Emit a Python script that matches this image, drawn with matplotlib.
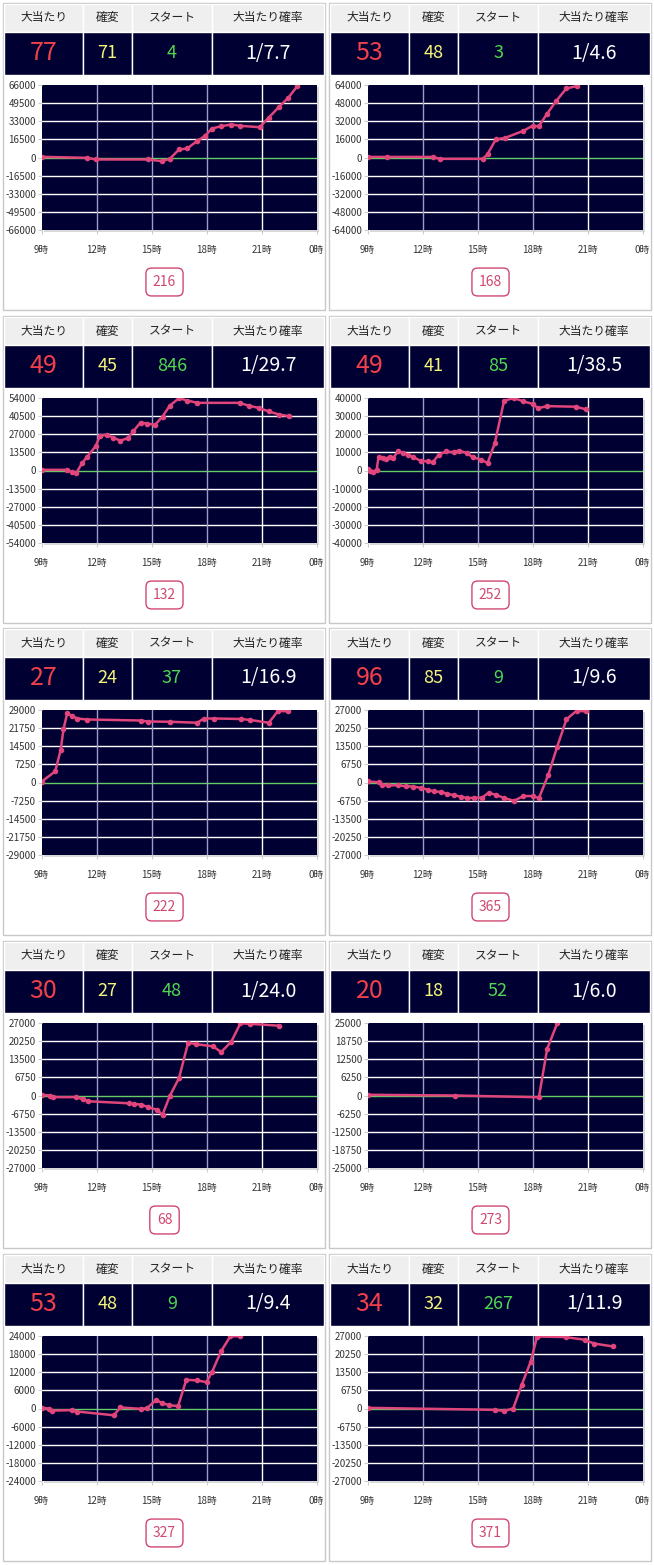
import matplotlib
matplotlib.use("Agg")
import matplotlib.pyplot as plt
from matplotlib.patches import Rectangle
import numpy as np

plt.rcParams['font.family'] = ['Noto Sans CJK JP', 'DejaVu Sans']

# summary numbers per machine
big_hits = [77, 53, 49, 49, 27, 96, 30, 20, 53, 34]
kakuhen = [71, 48, 45, 41, 24, 85, 27, 18, 48, 32]
starts = [4, 3, 846, 85, 37, 9, 48, 52, 9, 267]
probs = ["1/7.7", "1/4.6", "1/29.7", "1/38.5", "1/16.9", "1/9.6", "1/24.0", "1/6.0", "1/9.4", "1/11.9"]
totals = [216, 168, 132, 252, 222, 365, 68, 273, 327, 371]
y_max = [66000, 64000, 54000, 40000, 29000, 27000, 27000, 25000, 24000, 27000]

headers = ["大当たり", "確変", "スタート", "大当たり確率"]
hour_ticks = [9, 12, 15, 18, 21, 24]
hour_labels = ["9時", "12時", "15時", "18時", "21時", "0時"]

# time (hour) and balance series
t1 = [9.0, 11.5, 11.95, 14.8, 15.55, 16.0, 16.5, 16.95, 17.5, 17.9, 18.3, 18.8, 19.35, 19.85, 20.9, 21.4, 21.95, 22.45, 22.95]
v1 = [600, -300, -1800, -1800, -3300, -1200, 7300, 8200, 15200, 19400, 26400, 28500, 30000, 28800, 27600, 36400, 46000, 54200, 64800]
t2 = [9.0, 10.05, 12.55, 12.96, 15.3, 15.55, 16.0, 16.5, 17.5, 18.0, 18.35, 18.8, 19.3, 19.85, 20.4]
v2 = [500, 500, 500, -1200, -1200, 3000, 16000, 17300, 23500, 28000, 27600, 38800, 50000, 61000, 63000]
t3 = [9.0, 10.4, 10.67, 10.9, 11.2, 11.5, 11.95, 12.2, 12.55, 12.9, 13.3, 13.7, 14.0, 14.4, 14.75, 15.2, 15.6, 16.0, 16.5, 16.95, 17.5, 19.8, 20.3, 20.85, 21.4, 21.95, 22.5]
v3 = [500, 500, -1300, -1800, 5300, 10400, 18000, 26000, 26600, 24500, 22300, 24000, 29100, 35700, 34900, 34100, 40200, 48300, 53900, 52100, 50400, 50400, 48300, 46600, 44000, 41700, 40500]
t4 = [9.0, 9.15, 9.3, 9.5, 9.6, 9.85, 10.0, 10.2, 10.4, 10.65, 10.95, 11.2, 11.5, 11.9, 12.3, 12.55, 12.9, 13.3, 13.7, 14.0, 14.4, 14.75, 15.2, 15.55, 15.95, 16.45, 17.0, 17.5, 18.0, 18.3, 18.8, 20.35, 20.9]
v4 = [750, -200, -750, 400, 7300, 6700, 6400, 7700, 6700, 10500, 9700, 8800, 7300, 5400, 5000, 4500, 8800, 10500, 10100, 11000, 9700, 7300, 6000, 4100, 15300, 38500, 40000, 38100, 36800, 34400, 35500, 35200, 33800]
t5 = [9.0, 9.75, 10.05, 10.2, 10.4, 10.65, 10.95, 11.5, 14.4, 14.8, 16.0, 17.5, 17.85, 18.4, 19.9, 20.4, 21.4, 21.9, 22.45]
v5 = [300, 4450, 13200, 21300, 27700, 26700, 25600, 25200, 24800, 24400, 24300, 23900, 25600, 25600, 25400, 25000, 23900, 28600, 28500]
t6 = [9.0, 9.6, 9.8, 10.1, 10.65, 11.1, 11.5, 11.9, 12.3, 12.6, 13.0, 13.35, 13.7, 14.1, 14.45, 14.8, 15.25, 15.6, 16.0, 16.45, 17.0, 17.5, 18.0, 18.35, 18.85, 19.35, 19.85, 20.4, 20.9]
v6 = [400, 100, -750, -1100, -1000, -1400, -1500, -2000, -2650, -3300, -3500, -4200, -4700, -5300, -5800, -5700, -5600, -3900, -4550, -5800, -6800, -5050, -5050, -5800, 2650, 13400, 23500, 26700, 26500]
t7 = [9.0, 9.45, 9.65, 10.9, 11.25, 11.55, 13.75, 14.05, 14.45, 14.8, 15.3, 15.6, 16.0, 16.5, 17.0, 17.45, 18.35, 18.8, 19.35, 19.85, 20.35, 21.95]
v7 = [250, 0, -600, -600, -1400, -2150, -2900, -3150, -3400, -4300, -5300, -7200, -100, 6450, 19700, 19100, 18300, 16200, 20000, 26900, 26700, 26000]
t8 = [9.0, 13.75, 18.35, 18.8, 19.35]
v8 = [250, 0, -600, 16100, 24900]
t9 = [9.0, 9.4, 9.6, 10.65, 10.95, 12.95, 13.3, 14.4, 14.75, 15.25, 15.55, 15.95, 16.45, 16.9, 17.5, 18.0, 18.3, 18.8, 19.3, 19.85]
v9 = [200, 0, -700, -550, -1000, -2250, 350, -100, 100, 2800, 1900, 1100, 800, 9500, 9300, 8700, 12100, 19000, 23900, 23900]
t10 = [9.0, 15.95, 16.45, 16.95, 17.4, 17.9, 18.25, 19.8, 20.85, 21.35, 22.4]
v10 = [250, -500, -900, 0, 8600, 17400, 26800, 26600, 25600, 24200, 23100]

times = [t1, t2, t3, t4, t5, t6, t7, t8, t9, t10]
values = [v1, v2, v3, v4, v5, v6, v7, v8, v9, v10]

W, H = 654, 1565
col_x = [3, 329]
row_y = [3, 316, 628, 941, 1254]
panel_w, panel_h = 322, 307
cells = [(1, 80), (80, 129), (129, 209), (209, 321)]
val_colors = ['#f0404a', '#f5f57a', '#50d850', 'white']
navy = '#000033'
line_col = '#e0457b'

fig = plt.figure(figsize=(W / 100, H / 100), dpi=100)
bg = fig.add_axes([0, 0, 1, 1])
bg.set_xlim(0, W)
bg.set_ylim(H, 0)
bg.axis('off')

for i in range(10):
    px = col_x[i % 2]
    py = row_y[i // 2]
    bg.add_patch(Rectangle((px, py), panel_w, panel_h, facecolor='white', edgecolor='#c8c8c8', lw=1))
    vals = [big_hits[i], kakuhen[i], starts[i], probs[i]]
    for k, (a, b) in enumerate(cells):
        bg.add_patch(Rectangle((px + a, py + 1), b - a, 28, facecolor='#efefef', edgecolor='white', lw=1))
        bg.add_patch(Rectangle((px + a, py + 29), b - a, 43, facecolor=navy, edgecolor='white', lw=1))
        bg.text(px + (a + b) / 2, py + 15, headers[k], ha='center', va='center', fontsize=8.5,
                color='#222222')
        fs = 18 if k == 0 else (14 if k == 3 else 13)
        bg.text(px + (a + b) / 2, py + 50, str(vals[k]), ha='center', va='center', fontsize=fs, color=val_colors[k])

    # plot area
    l, r = px + 38.5, px + 313.5
    t, btm = py + 82, py + 227
    bg.add_patch(Rectangle((l + 2, t + 2), r - l, btm - t, facecolor='#d9d9d9', edgecolor='none'))
    ax = fig.add_axes([l / W, 1 - btm / H, (r - l) / W, (btm - t) / H])
    ax.set_facecolor(navy)
    ym = y_max[i]
    ax.set_xlim(9, 24)
    ax.set_ylim(-ym, ym)
    yt = np.linspace(-ym, ym, 9)
    ax.set_yticks(yt)
    ax.set_yticklabels([str(int(round(v))) for v in yt])
    ax.set_xticks(hour_ticks)
    ax.set_xticklabels(hour_labels)
    for s in ax.spines.values():
        s.set_visible(False)
    for v in yt[1:-1]:
        ax.axhline(v, color='#66cc66' if v == 0 else 'white', lw=1, zorder=1)
    for h in hour_ticks[1:-1]:
        ax.axvline(h, color='white' if h == 21 else '#9d9dc8', lw=1, zorder=1)
    ax.tick_params(axis='y', labelsize=7, labelcolor='#333333', color='#cccccc', length=3, pad=1)
    ax.tick_params(axis='x', labelsize=7, labelcolor='#333333', color='#cccccc', length=3, pad=8)
    ax.plot(times[i], values[i], color=line_col, lw=1.8, marker='o', ms=3, zorder=3)

    # total box
    bg.text(px + 161.5, py + 279, str(totals[i]), ha='center', va='center', fontsize=10, color='#d04870',
            bbox=dict(boxstyle='round,pad=0.5,rounding_size=0.4', facecolor='white', edgecolor='#d04870', lw=1))

fig.savefig('out.png', dpi=100)
